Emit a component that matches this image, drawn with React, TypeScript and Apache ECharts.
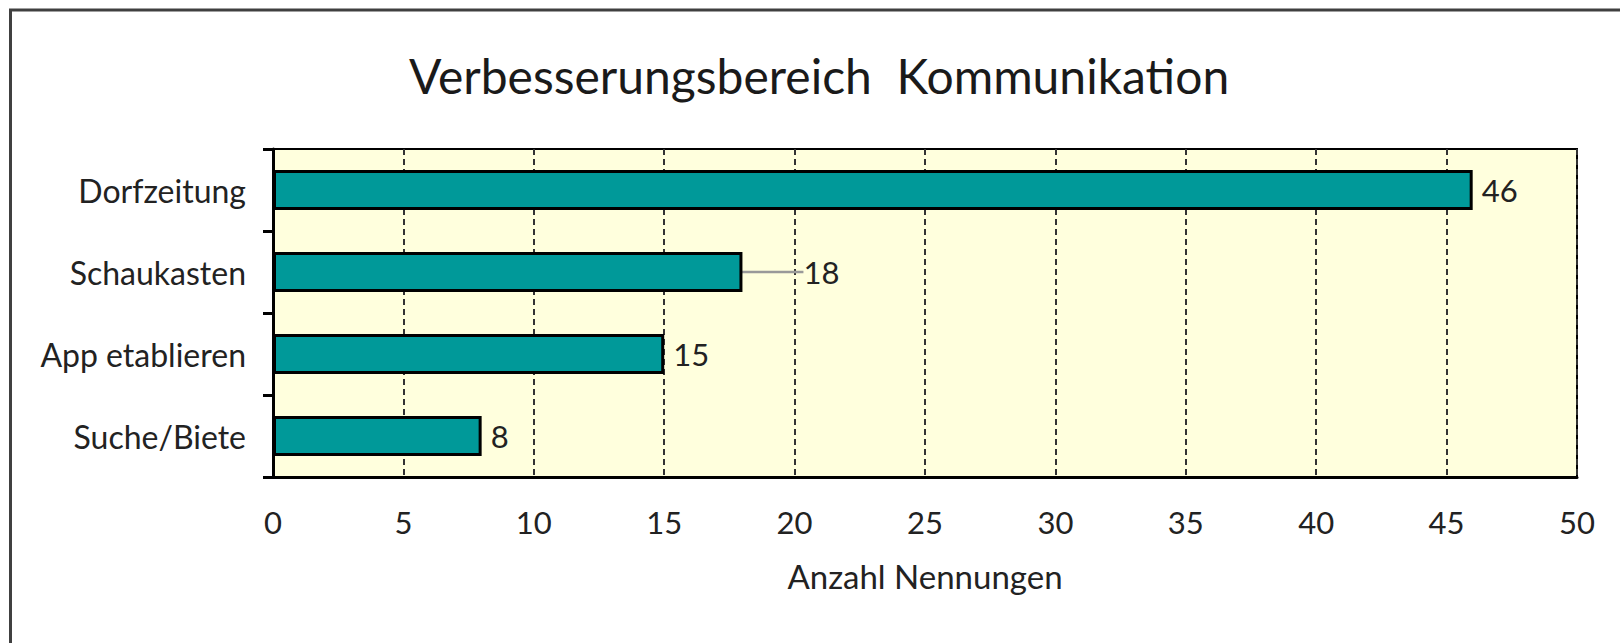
import React, { useEffect, useRef } from "react";
import * as echarts from "echarts";

const titleText = "Verbesserungsbereich  Kommunikation";
const categories = ["Dorfzeitung", "Schaukasten", "App etablieren", "Suche/Biete"];
const values = [46, 18, 15, 8];
const axisName = "Anzahl Nennungen";
const xMin = 0;
const xMax = 50;
const xInterval = 5;
// index of the value whose label is pulled away with a leader line
const leaderIndex = 1;

const FONT = "Lato";

export default function App() {
  const ref = useRef<HTMLDivElement>(null);
  useEffect(() => {
    if (!ref.current) return;
    const chart = echarts.init(ref.current, undefined, { renderer: "svg" });
    chart.setOption({
      animation: false,
      backgroundColor: "#ffffff",
      title: {
        text: titleText,
        left: 404,
        top: 46,
        textStyle: { fontFamily: FONT, fontSize: 48, fontWeight: "normal", color: "#1a1a1a" },
      },
      graphic: [
        {
          type: "rect",
          shape: { x: 10.5, y: 10, width: 1640, height: 700 },
          style: { fill: "none", stroke: "#404040", lineWidth: 3 },
          silent: true,
        },
      ],
      grid: {
        left: 273,
        top: 149,
        right: 43,
        bottom: 166,
        show: true,
        backgroundColor: "#FFFFDD",
        borderColor: "#000000",
        borderWidth: 2,
        containLabel: false,
      },
      xAxis: {
        type: "value",
        min: xMin,
        max: xMax,
        interval: xInterval,
        name: axisName,
        nameLocation: "middle",
        nameGap: 82,
        nameTextStyle: { fontFamily: FONT, fontSize: 33, color: "#222" },
        axisLine: { show: true, lineStyle: { color: "#000", width: 3 } },
        axisTick: { show: false },
        axisLabel: { fontFamily: FONT, fontSize: 31, color: "#222", margin: 29 },
        splitLine: { show: true, lineStyle: { color: "#333", width: 2, type: [6, 4] } },
      },
      yAxis: {
        type: "category",
        data: categories,
        inverse: true,
        axisLine: { show: true, lineStyle: { color: "#000", width: 3 } },
        axisTick: { show: true, inside: false, length: 10, lineStyle: { color: "#000", width: 3 } },
        axisLabel: { fontFamily: FONT, fontSize: 32, color: "#222", margin: 27 },
        splitLine: { show: false },
      },
      series: [
        {
          type: "bar",
          barWidth: 40,
          data: values.map((v, i) => ({
            value: v,
            labelLine: { show: i === leaderIndex },
          })),
          itemStyle: { color: "#009999", borderColor: "#000", borderWidth: 3 },
          label: {
            show: true,
            position: "right",
            distance: 9,
            fontFamily: FONT,
            fontSize: 31,
            color: "#222",
          },
          labelLine: { show: false, lineStyle: { color: "#999999", width: 2.5 } },
          labelLayout: (params: any) => (params.dataIndex === leaderIndex ? { dx: 52 } : {}),
        },
      ],
    });
    return () => chart.dispose();
  }, []);
  return (
    <div
      ref={ref}
      style={{ position: "absolute", left: 0, top: 0, width: 1620, height: 643 }}
    />
  );
}
